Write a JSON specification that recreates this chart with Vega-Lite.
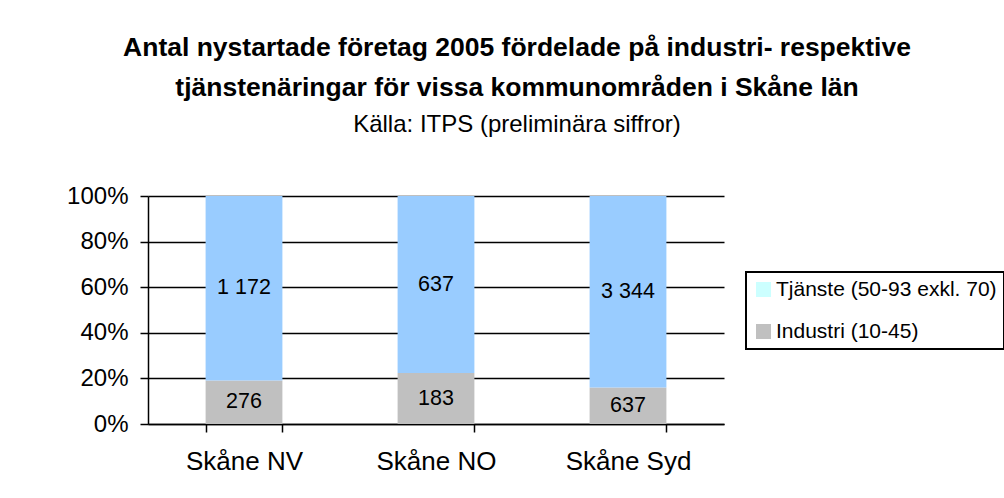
{
  "$schema": "https://vega.github.io/schema/vega-lite/v6.json",
  "autosize": {"type": "none"},
  "width": 576,
  "height": 228,
  "padding": {"left": 148, "top": 196, "right": 280, "bottom": 74},
  "background": "white",
  "config": {
    "view": {"stroke": null},
    "font": "Liberation Sans",
    "locale": {"number": {"decimal": ",", "thousands": " ", "grouping": [3], "currency": ["", " kr"]}}
  },
  "title": {
    "text": ["Antal nystartade företag 2005 fördelade på industri- respektive", "tjänstenäringar för vissa kommunområden i Skåne län"],
    "subtitle": "Källa: ITPS (preliminära siffror)",
    "anchor": "middle",
    "frame": "group",
    "dx": 81,
    "offset": 47,
    "font": "Liberation Sans",
    "fontSize": 26.5,
    "fontWeight": "bold",
    "color": "black",
    "lineHeight": 40,
    "subtitleFont": "Liberation Sans",
    "subtitleFontSize": 24,
    "subtitleColor": "black",
    "subtitlePadding": 12
  },
  "data": {
    "values": [
      {"omrade": "Skåne NV", "bransch": "Industri (10-45)", "antal": 276},
      {"omrade": "Skåne NV", "bransch": "Tjänste (50-93 exkl. 70)", "antal": 1172},
      {"omrade": "Skåne NO", "bransch": "Industri (10-45)", "antal": 183},
      {"omrade": "Skåne NO", "bransch": "Tjänste (50-93 exkl. 70)", "antal": 637},
      {"omrade": "Skåne Syd", "bransch": "Industri (10-45)", "antal": 637},
      {"omrade": "Skåne Syd", "bransch": "Tjänste (50-93 exkl. 70)", "antal": 3344}
    ]
  },
  "encoding": {
    "x": {
      "field": "omrade",
      "type": "nominal",
      "sort": ["Skåne NV", "Skåne NO", "Skåne Syd"],
      "scale": {"paddingInner": 0.6, "paddingOuter": 0.3},
      "axis": {
        "title": null,
        "labelAngle": 0,
        "tickBand": "extent",
        "domainColor": "black",
        "domainWidth": 1.5,
        "tickColor": "black",
        "tickWidth": 1.5,
        "tickSize": 8,
        "labelFontSize": 26,
        "labelColor": "black",
        "labelFont": "Liberation Sans",
        "labelPadding": 16,
        "grid": false
      }
    }
  },
  "layer": [
    {
      "mark": {"type": "bar"},
      "encoding": {
        "y": {
          "field": "antal",
          "type": "quantitative",
          "stack": "normalize",
          "scale": {"domain": [0, 1]},
          "axis": {
            "title": null,
            "format": ".0%",
            "values": [0, 0.2, 0.4, 0.6, 0.8, 1],
            "grid": true,
            "gridColor": "black",
            "gridWidth": 1.5,
            "gridOpacity": 1,
            "domainColor": "black",
            "domainWidth": 1.5,
            "tickColor": "black",
            "tickWidth": 1.5,
            "tickSize": 8,
            "labelFontSize": 24,
            "labelColor": "black",
            "labelFont": "Liberation Sans",
            "labelPadding": 12
          }
        },
        "fill": {
          "field": "bransch",
          "type": "nominal",
          "scale": {"range": ["#C0C0C0", "#99CCFF"]},
          "legend": null
        },
        "order": {"field": "bransch", "type": "nominal", "sort": "ascending"}
      }
    },
    {
      "mark": {"type": "text", "fontSize": 21.5, "font": "Liberation Sans", "color": "black", "baseline": "middle"},
      "encoding": {
        "y": {"field": "antal", "type": "quantitative", "stack": "normalize", "bandPosition": 0.5},
        "detail": {"field": "bransch"},
        "order": {"field": "bransch", "type": "nominal", "sort": "ascending"},
        "text": {"field": "antal", "type": "quantitative", "format": ",d"}
      }
    },
    {
      "mark": {"type": "point", "filled": true, "opacity": 0, "shape": "square"},
      "encoding": {
        "color": {
          "field": "bransch",
          "type": "nominal",
          "scale": {
            "domain": ["Tjänste (50-93 exkl. 70)", "Industri (10-45)"],
            "range": ["#CCFFFF", "#C0C0C0"]
          },
          "legend": {
            "title": null,
            "orient": "none",
            "legendX": 598,
            "legendY": 76,
            "symbolType": "square",
            "symbolSize": 225,
            "symbolStrokeWidth": 0,
            "symbolOpacity": 1,
            "labelFontSize": 21,
            "labelFont": "Liberation Sans",
            "labelColor": "black",
            "labelLimit": 400,
            "rowPadding": 20,
            "padding": 7,
            "strokeColor": "black",
            "fillColor": "white",
            "labelOffset": 2,
            "encode": {
              "legend": {
                "update": {"strokeWidth": {"value": 2}}
              }
            }
          }
        }
      }
    }
  ]
}
